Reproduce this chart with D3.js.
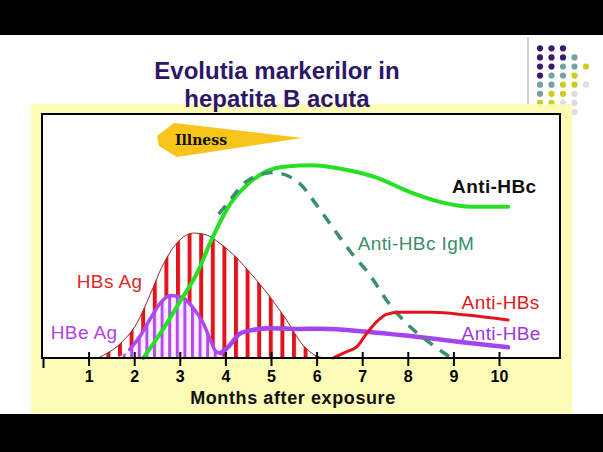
<!DOCTYPE html>
<html>
<head>
<meta charset="utf-8">
<script src="https://cdn.jsdelivr.net/npm/d3@7"></script>
<style>
  html, body { margin: 0; padding: 0; background: #fff; }
  svg { display: block; }
</style>
</head>
<body>
<div id="chart"></div>
<script>
// ============================================================================
// DATA  (month after exposure, relative level 0..100)
// ============================================================================

const months     = [0, 1, 2, 3, 4, 5, 6, 7, 8, 9, 10];
const tickLabels = ["", "1", "2", "3", "4", "5", "6", "7", "8", "9", "10"];

const antiHBc = [
    [2.2, 0], [2.64, 12], [3.0, 23], [3.41, 36], [3.66, 47], [4.1, 63],
    [4.54, 72], [4.9, 76.5], [5.34, 78.5], [5.9, 79], [6.4, 78], [7.3, 74],
    [8.05, 68], [8.7, 64], [9.4, 62], [10.2, 62]
];

const antiHBcIgM = [
    [3.85, 59], [4.03, 63], [4.47, 72.5], [5.05, 76], [5.6, 72], [6.0, 62.7],
    [6.36, 53.3], [6.8, 42.2], [7.17, 34], [7.53, 23.8], [8.05, 12.8],
    [8.55, 5.3], [8.95, 0]
];

const hbsAg = [
    [1.2, 0], [1.7, 6], [2.05, 14], [2.35, 26], [2.6, 37], [2.93, 47],
    [3.15, 50.4], [3.3, 51.2], [3.59, 50.4], [3.88, 47], [4.25, 41],
    [4.54, 35], [4.98, 25], [5.34, 15.6], [5.7, 5.3], [6.0, 0.8], [6.2, 0]
];

const hbeAg = [
    [1.6, 0], [1.9, 3.5], [2.13, 9], [2.35, 16], [2.55, 22], [2.8, 25.6],
    [3.05, 24.8], [3.3, 20.4], [3.52, 14], [3.68, 7], [3.8, 2.5], [3.9, 2]
];

const antiHBe = [
    [3.9, 2], [4.06, 4.5], [4.32, 10], [4.6, 11.5], [4.98, 12.2], [5.6, 11.9],
    [6.1, 12], [7.1, 10.8], [8.05, 9], [9.1, 6.7], [10.2, 4.4]
];

const antiHBs = [
    [6.36, 0], [6.66, 2.6], [6.88, 4.6], [7.1, 10.1], [7.32, 14.9],
    [7.53, 17.9], [7.82, 18.7], [8.55, 18.7], [9.29, 17.6], [10.2, 15.6]
];

const illness = [2.5, 5.68];

// decorative dot grid (P purple, T teal, Y yellow, L light)
const dotRows = ["PPP", "PPPT", "PPTTY", "PTTY", "TTYYL", "TYYL", "YYLL", "__LL"];


// ============================================================================
// SETUP
// ============================================================================

const W = 603, H = 452;

const svg = d3.select("#chart")
    .append("svg")
    .attr("width", W)
    .attr("height", H)
    .style("font-family", "Arial, 'Liberation Sans', sans-serif");

svg.append("rect").attr("x", 0).attr("y", 0).attr("width", W).attr("height", H).attr("fill", "#fff");

// black bands
svg.append("rect").attr("x", 0).attr("y", 0).attr("width", W).attr("height", 35).attr("fill", "#000");
svg.append("rect").attr("x", 0).attr("y", 414).attr("width", W).attr("height", 38).attr("fill", "#000");

// separator line
svg.append("line")
    .attr("x1", 528).attr("x2", 528)
    .attr("y1", 37).attr("y2", 104)
    .attr("stroke", "#a8a8a8")
    .attr("stroke-width", 1);

// dot grid
const dotColor = { P: "#3a1a6c", T: "#72a4a2", Y: "#cccc22", L: "#dcdce8" };
dotRows.forEach((row, r) => {
    row.split("").forEach((c, k) => {
        if (!dotColor[c]) return;
        svg.append("circle")
            .attr("cx", 540 + k * 11.5)
            .attr("cy", 48.3 + r * 9.1)
            .attr("r", 3.1)
            .attr("fill", dotColor[c]);
    });
});

// yellow panel
svg.append("rect")
    .attr("x", 31).attr("y", 104)
    .attr("width", 541).attr("height", 310)
    .attr("fill", "#fdfcae")
    .attr("opacity", 0.9);

// title
svg.append("text")
    .attr("x", 277).attr("y", 79)
    .attr("text-anchor", "middle")
    .style("font-size", "24px")
    .style("font-weight", "bold")
    .attr("fill", "#2e1766")
    .text("Evolutia markerilor in");

svg.append("text")
    .attr("x", 277).attr("y", 107)
    .attr("text-anchor", "middle")
    .style("font-size", "24px")
    .style("font-weight", "bold")
    .attr("fill", "#2e1766")
    .text("hepatita B acuta");


// ============================================================================
// CHART
// ============================================================================

const x = d3.scaleLinear().domain([0, 10]).range([43, 499]);
const y = d3.scaleLinear().domain([0, 100]).range([358, 114]);

const plotL = 42, plotR = 560, plotT = 114, plotB = 358;

svg.append("rect")
    .attr("x", plotL).attr("y", plotT)
    .attr("width", plotR - plotL).attr("height", plotB - plotT)
    .attr("fill", "#fff");

const defs = svg.append("defs");

const redHatch = defs.append("pattern")
    .attr("id", "red-hatch")
    .attr("patternUnits", "userSpaceOnUse")
    .attr("x", 2).attr("y", 0)
    .attr("width", 11.6).attr("height", 10);
redHatch.append("rect").attr("width", 11.6).attr("height", 10).attr("fill", "#fff");
redHatch.append("rect").attr("x", 0).attr("width", 4).attr("height", 10).attr("fill", "#e3141c");

const purpleHatch = defs.append("pattern")
    .attr("id", "purple-hatch")
    .attr("patternUnits", "userSpaceOnUse")
    .attr("x", 1).attr("y", 0)
    .attr("width", 7.6).attr("height", 10);
purpleHatch.append("rect").attr("width", 7.6).attr("height", 10).attr("fill", "#fdeefd");
purpleHatch.append("rect").attr("x", 0).attr("width", 3).attr("height", 10).attr("fill", "#b24cf0");

const area = d3.area()
    .x(d => x(d[0]))
    .y0(y(0))
    .y1(d => y(d[1]))
    .curve(d3.curveMonotoneX);

const line = d3.line()
    .x(d => x(d[0]))
    .y(d => y(d[1]))
    .curve(d3.curveMonotoneX);

const g = svg.append("g");

// HBs Ag (red hatched)
g.append("path").datum(hbsAg).attr("d", area).attr("fill", "url(#red-hatch)");
g.append("path").datum(hbsAg).attr("d", line)
    .attr("fill", "none").attr("stroke", "#8a2b2b").attr("stroke-width", 1);

// HBe Ag (purple hatched)
g.append("path").datum(hbeAg).attr("d", area).attr("fill", "url(#purple-hatch)");

// HBe Ag outline + Anti-HBe
g.append("path").datum(hbeAg.filter(d => d[0] >= 1.9)).attr("d", line)
    .attr("fill", "none").attr("stroke", "#b048f0").attr("stroke-width", 3.5)
    .attr("stroke-linecap", "round");
g.append("path").datum(antiHBe).attr("d", line)
    .attr("fill", "none").attr("stroke", "#a544ee").attr("stroke-width", 4.5)
    .attr("stroke-linecap", "round");

// Anti-HBc
g.append("path").datum(antiHBc).attr("d", line)
    .attr("fill", "none").attr("stroke", "#26e026").attr("stroke-width", 4)
    .attr("stroke-linecap", "round");

// Anti-HBc IgM
g.append("path").datum(antiHBcIgM).attr("d", line)
    .attr("fill", "none").attr("stroke", "#3a8f6e").attr("stroke-width", 3.5)
    .attr("stroke-dasharray", "11,9");

// Anti-HBs
g.append("path").datum(antiHBs).attr("d", line)
    .attr("fill", "none").attr("stroke", "#e3141c").attr("stroke-width", 3)
    .attr("stroke-linecap", "round");

// Illness arrow
const ix0 = x(illness[0]), ix1 = x(illness[1]);
const icy = 138;
g.append("path")
    .attr("d", `M${ix0},${icy - 2} L${ix0 + 17},${icy - 15} L${ix1},${icy} L${ix0 + 20},${icy + 19} L${ix0 + 2},${icy + 8} Z`)
    .attr("fill", "#f6c41a");

g.append("text")
    .attr("x", ix0 + 18).attr("y", icy + 7)
    .style("font-family", "'DejaVu Serif', serif")
    .style("font-size", "14px")
    .style("font-weight", "bold")
    .attr("fill", "#111")
    .text("Illness");

// series labels
const labels = [
    { text: "Anti-HBc",     m: 8.97, v: 70.5, color: "#111",    weight: "bold" },
    { text: "Anti-HBc IgM", m: 6.9,  v: 47,   color: "#3a8c6c", weight: "normal" },
    { text: "HBs Ag",       m: 0.74, v: 31.5, color: "#e02828", weight: "normal" },
    { text: "HBe Ag",       m: 0.17, v: 10.6, color: "#b044e8", weight: "normal" },
    { text: "Anti-HBs",     m: 9.18, v: 23,   color: "#e01a1a", weight: "normal" },
    { text: "Anti-HBe",     m: 9.18, v: 10.3, color: "#9b38e0", weight: "normal" }
];

g.selectAll("text.series-label")
    .data(labels)
    .join("text")
    .attr("class", "series-label")
    .attr("x", d => x(d.m))
    .attr("y", d => y(d.v) + 7)
    .style("font-size", "19px")
    .style("font-weight", d => d.weight)
    .style("letter-spacing", "0.4px")
    .attr("fill", d => d.color)
    .text(d => d.text);

// frame
svg.append("rect")
    .attr("x", plotL).attr("y", plotT)
    .attr("width", plotR - plotL).attr("height", plotB - plotT)
    .attr("fill", "none")
    .attr("stroke", "#000")
    .attr("stroke-width", 2);

// x axis
const xAxis = svg.append("g")
    .attr("transform", `translate(0,${plotB})`)
    .call(d3.axisBottom(x)
        .tickValues(months)
        .tickFormat((d, i) => tickLabels[i])
        .tickSize(9)
        .tickPadding(4));

xAxis.select(".domain").remove();
xAxis.selectAll(".tick line")
    .attr("y1", d => d === 0 ? 0 : -6)
    .attr("y2", d => d === 0 ? 10 : 8)
    .attr("stroke", "#000")
    .attr("stroke-width", 2);
xAxis.selectAll(".tick text")
    .style("font-family", "Arial, 'Liberation Sans', sans-serif")
    .style("font-size", "16px")
    .style("font-weight", "bold")
    .attr("fill", "#000");

svg.append("text")
    .attr("x", 293).attr("y", 404)
    .attr("text-anchor", "middle")
    .style("font-size", "18px")
    .style("font-weight", "bold")
    .style("letter-spacing", "0.6px")
    .attr("fill", "#111")
    .text("Months after exposure");
</script>
</body>
</html>
